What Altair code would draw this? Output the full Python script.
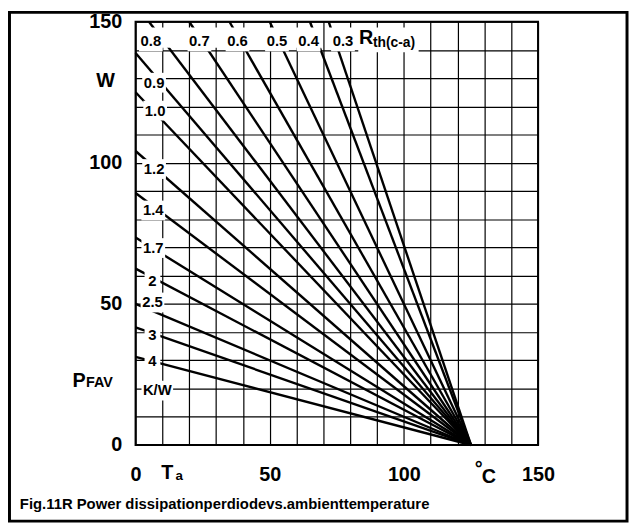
import altair as alt
import pandas as pd

FONT = "Liberation Sans"

# ---------------- data ----------------
TJ = 125.0  # all lines meet the Ta axis here (°C)

# lines that leave through the top edge (150 W): Ta where they cross 150 W
top_names = ["0.8", "0.7", "0.6", "0.5", "0.4", "0.3"]
top_start_ta = [5.0, 20.0, 35.0, 50.0, 65.0, 72.0]
P_TOP = 150.0

# lines that leave through the left edge (Ta = 0): P at Ta = 0
left_names = ["0.9", "1.0", "1.2", "1.4", "1.7", "2", "2.5", "3", "4"]
left_start_p = [138.9, 125.0, 104.2, 89.3, 73.5, 62.5, 50.0, 41.7, 31.2]

# in-plot labels (Ta, P of the label centre)
top_label_text = ["0.8", "0.7", "0.6", "0.5", "0.4", "0.3"]
top_label_ta = [5.7, 23.8, 38.0, 52.7, 64.5, 77.3]
top_label_p = [143.2, 143.2, 143.2, 143.2, 143.2, 143.2]

left_label_text = ["0.9", "1.0", "1.2", "1.4", "1.7", "2", "2.5", "3", "4", "K/W"]
left_label_ta = [6.9, 7.3, 6.9, 6.6, 6.6, 6.3, 6.3, 6.3, 6.3, 8.1]
left_label_p = [128.4, 118.5, 97.8, 83.1, 69.8, 58.2, 50.5, 38.9, 29.8, 19.3]

# white band behind the top label row (Ta from, Ta to, P from, P to)
band_ta0 = [0.7, 70.7, 83.0]
band_ta1 = [69.3, 106.0, 105.5]
band_p0 = [140.8, 140.8, 139.2]
band_p1 = [148.0, 148.0, 147.0]

grid_x = list(range(0, 151, 10))
grid_y = list(range(0, 151, 10))
tick_labels = [0, 50, 100, 150]

# ---------------- tables ----------------
rows = []
for n, ta in zip(top_names, top_start_ta):
    rows.append({"name": n, "ta": ta, "p": P_TOP, "o": 0})
    rows.append({"name": n, "ta": TJ, "p": 0.0, "o": 1})
for n, p in zip(left_names, left_start_p):
    rows.append({"name": n, "ta": 0.0, "p": p, "o": 0})
    rows.append({"name": n, "ta": TJ, "p": 0.0, "o": 1})
lines_df = pd.DataFrame(rows)

top_lab_df = pd.DataFrame({"t": top_label_text, "ta": top_label_ta, "p": top_label_p})
left_lab_df = pd.DataFrame({"t": left_label_text, "ta": left_label_ta, "p": left_label_p})
band_df = pd.DataFrame({"ta0": band_ta0, "ta1": band_ta1, "p0": band_p0, "p1": band_p1})

xs = alt.Scale(domain=[0, 150], nice=False, zero=False)
ys = alt.Scale(domain=[0, 150], nice=False, zero=False)

lab_expr = " || ".join(f"datum.value == {v}" for v in tick_labels)
lab_expr = f"({lab_expr}) ? datum.label : ''"

x_axis = alt.Axis(values=grid_x, grid=True, gridColor="black", gridWidth=1.2, gridOpacity=1,
                  domain=False, ticks=False, labelExpr=lab_expr, labelFont=FONT,
                  labelFontWeight="bold", labelFontSize=20, labelColor="black",
                  labelPadding=20, labelFlush=False, labelOverlap=False, title=None)
y_axis = alt.Axis(values=grid_y, grid=True, gridColor="black", gridWidth=1.2, gridOpacity=1,
                  domain=False, ticks=False, labelExpr=lab_expr, labelFont=FONT,
                  labelFontWeight="bold", labelFontSize=20, labelColor="black",
                  labelPadding=14, labelOverlap=False, title=None)

X = lambda f: alt.X(f, scale=xs, axis=x_axis)
Y = lambda f: alt.Y(f, scale=ys, axis=y_axis)

lines = alt.Chart(lines_df).mark_line(color="black", strokeWidth=2.4, strokeCap="butt").encode(
    x=X("ta:Q"), y=Y("p:Q"), detail="name:N", order="o:Q",
)

bands = alt.Chart(band_df).mark_rect(color="white", opacity=1).encode(
    x=X("ta0:Q"), x2="ta1:Q", y=Y("p0:Q"), y2="p1:Q",
)


def boxes(df, hw, hh):
    return alt.Chart(df).mark_rect(color="white", opacity=1, xOffset=-hw, x2Offset=hw,
                                   yOffset=-hh, y2Offset=hh).encode(
        x=X("ta:Q"), x2="ta:Q", y=Y("p:Q"), y2="p:Q",
    )


left3 = left_lab_df[(left_lab_df["t"].str.len() == 3) & (left_lab_df["t"] != "K/W")].reset_index(drop=True)
left1 = left_lab_df[left_lab_df["t"].str.len() == 1].reset_index(drop=True)
leftk = left_lab_df[left_lab_df["t"] == "K/W"].reset_index(drop=True)

box_layers = [
    boxes(top_lab_df, 12, 10.5),
    boxes(left3, 12, 10),
    boxes(left1, 8, 10),
    boxes(leftk, 16, 10),
]


def lab_text(df):
    return alt.Chart(df).mark_text(
        font=FONT, fontWeight="bold", fontSize=15, color="black", align="center", baseline="middle"
    ).encode(x=X("ta:Q"), y=Y("p:Q"), text="t:N")


texts = [lab_text(top_lab_df), lab_text(left_lab_df)]


# ---- free annotations (pixel offsets relative to plot area) ----
def note(txt, vx, vy, size, align="left", baseline="alphabetic"):
    return alt.Chart(pd.DataFrame({"t": [txt]})).mark_text(
        font=FONT, fontWeight="bold", fontSize=size, color="black", align=align, baseline=baseline
    ).encode(x=alt.value(vx), y=alt.value(vy), text="t:N")


notes = [
    note("W", -30.3, 60, 20, align="center", baseline="middle"),
    note("P", -63.7, 369.3, 20),
    note("FAV", -50, 369.3, 14.5),
    note("T", 26, 462.7, 20),
    note("a", 40.5, 463, 13.5),
    note("°", 343, 458, 20),
    note("C", 350, 466, 20),
    note("R", 226, 22.7, 20),
    note("th(c-a)", 240, 25.5, 14),
    note("Fig.11R Power dissipationperdiodevs.ambienttemperature", -117, 492.7, 15),
]

frame = alt.Chart(pd.DataFrame({"a": [0]})).mark_rect(
    fillOpacity=0, stroke="black", strokeWidth=3
).encode(x=alt.value(-127.5), x2=alt.value(497), y=alt.value(-9.5), y2=alt.value(505))

chart = alt.layer(lines, bands, *box_layers, *texts, *notes, frame).properties(
    width=407, height=428,
    autosize=alt.AutoSizeParams(type="none"),
    padding={"left": 129, "top": 11, "right": 92, "bottom": 79},
    background="white",
).configure_view(stroke="black", strokeWidth=2)

chart.save("out.html", embed_options={"renderer": "svg", "actions": False})
